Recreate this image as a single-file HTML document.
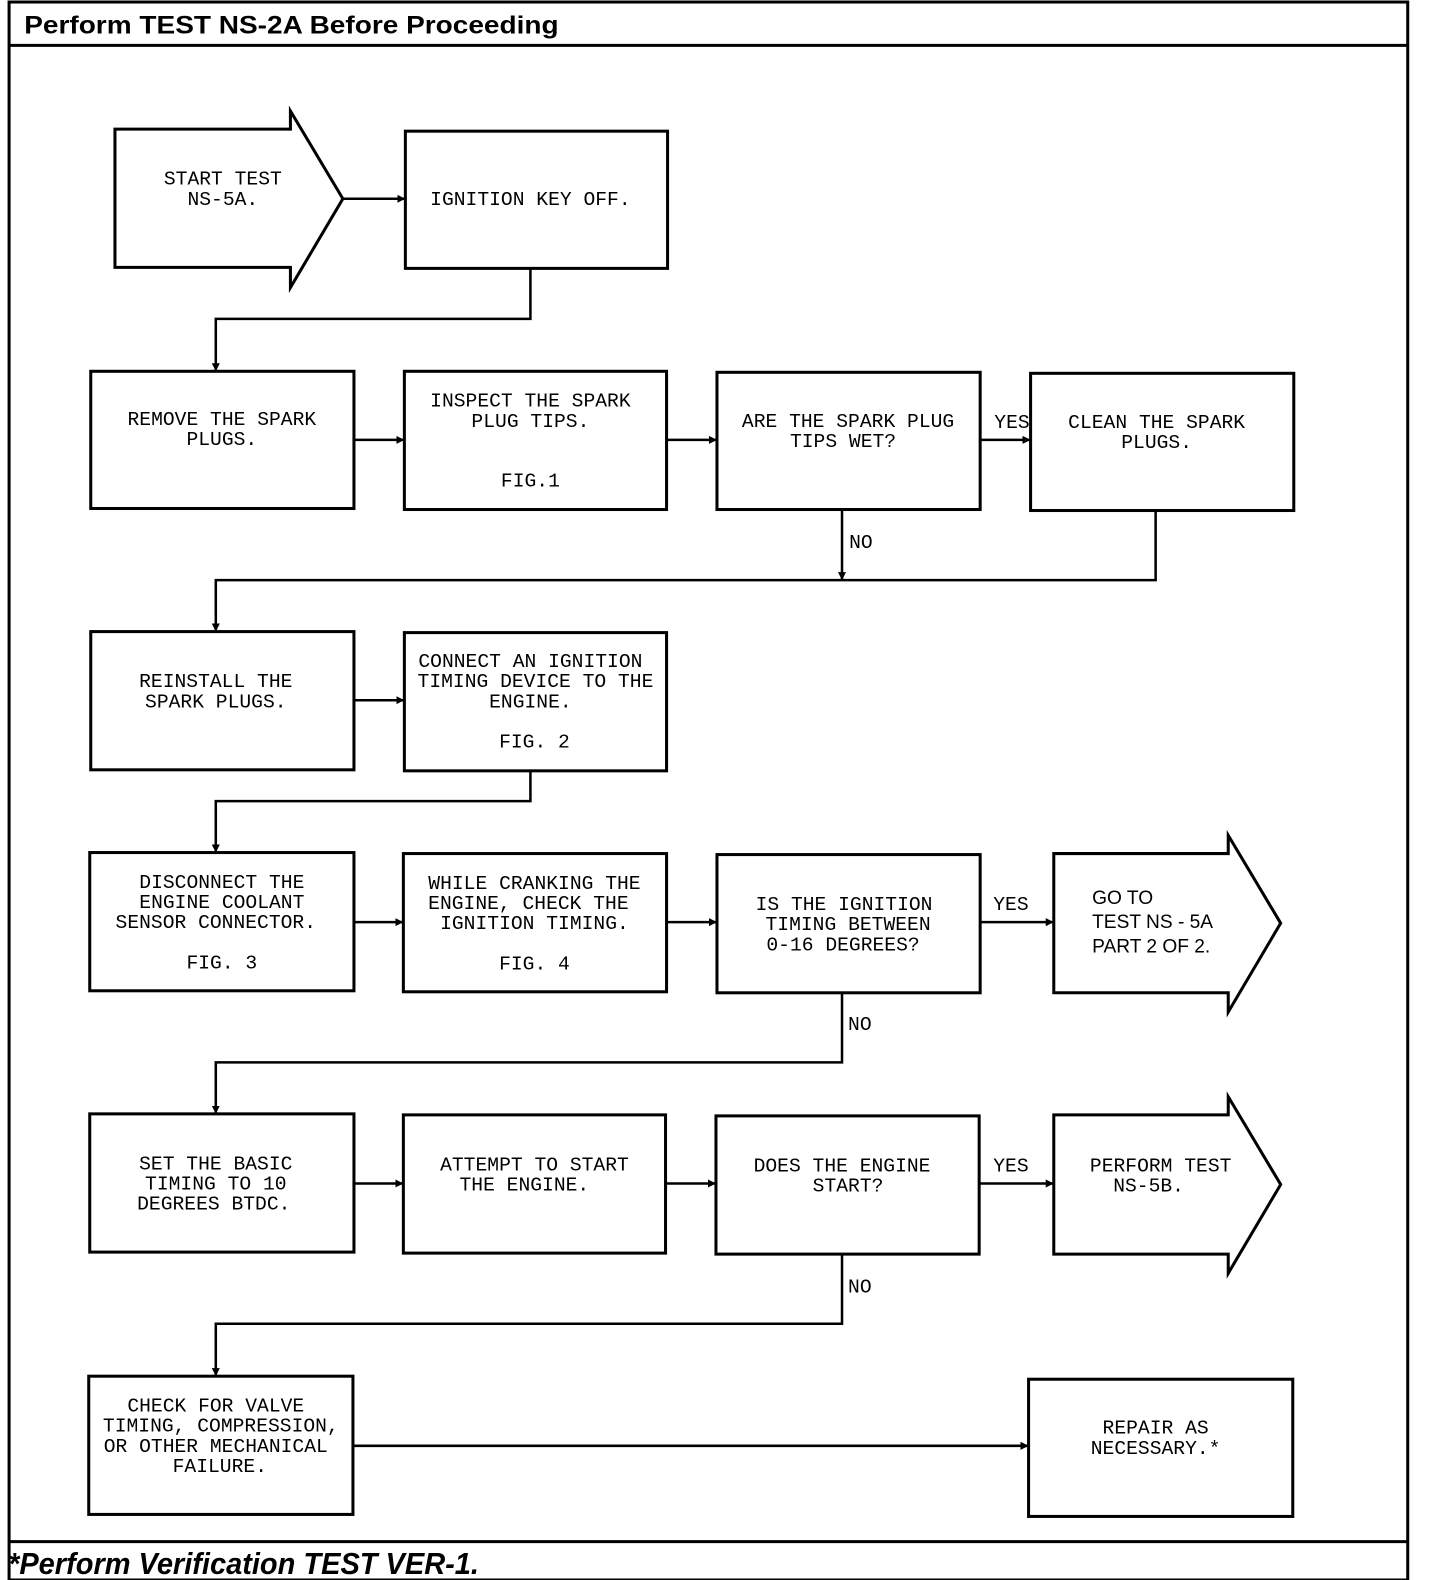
<!DOCTYPE html>
<html><head><meta charset="utf-8"><style>
html,body{margin:0;padding:0;background:#fff;}
svg{display:block;}
.t{font-family:"Liberation Mono",monospace;font-size:19.5px;fill:#000;text-anchor:middle;}
.l{font-family:"Liberation Mono",monospace;font-size:19.5px;fill:#000;}
.s{font-family:"Liberation Sans",sans-serif;font-size:19px;fill:#000;}
</style></head><body>
<svg width="1440" height="1580" viewBox="0 0 1428 1566" preserveAspectRatio="none" xmlns="http://www.w3.org/2000/svg">
<defs><marker id="a" markerWidth="8" markerHeight="8" refX="7" refY="4" orient="auto" markerUnits="userSpaceOnUse"><path d="M0,0 L8,4 L0,8 z" fill="#000"/></marker></defs>
<g fill="none" stroke="#000" stroke-width="3">
<rect x="9" y="2" width="1387" height="1564"/>
<line x1="9" y1="45" x2="1396" y2="45"/>
<line x1="9" y1="1528" x2="1396" y2="1528"/>
<path d="M114,128 H288 V110 L340,197 L288,285 V265 H114 Z"/>
<rect x="402" y="130" width="260" height="136"/>
<rect x="90" y="368" width="261" height="136"/>
<rect x="401" y="368" width="260" height="137"/>
<rect x="711" y="369" width="261" height="136"/>
<rect x="1022" y="370" width="261" height="136"/>
<rect x="90" y="626" width="261" height="137"/>
<rect x="401" y="627" width="260" height="137"/>
<rect x="89" y="845" width="262" height="137"/>
<rect x="400" y="846" width="261" height="137"/>
<rect x="711" y="847" width="261" height="137"/>
<path d="M1045,846 H1218 V828 L1270,915 L1218,1003 V984 H1045 Z"/>
<rect x="89" y="1104" width="262" height="137"/>
<rect x="400" y="1105" width="260" height="137"/>
<rect x="710" y="1106" width="261" height="137"/>
<path d="M1045,1105 H1218 V1087 L1270,1174 L1218,1262 V1243 H1045 Z"/>
<rect x="88" y="1364" width="262" height="137"/>
<rect x="1020" y="1367" width="262" height="136"/>
</g>
<g fill="none" stroke="#000" stroke-width="2.5" marker-end="url(#a)">
<path d="M340,197 H401"/>
<path d="M526,266 V316 H214 V367"/>
<path d="M351,436 H400"/>
<path d="M661,436 H710"/>
<path d="M972,436 H1021"/>
<path d="M835,505 V574"/>
<path d="M1146,506 V575 H214 V625"/>
<path d="M351,694 H400"/>
<path d="M526,764 V794 H214 V844"/>
<path d="M351,914 H399"/>
<path d="M661,914 H710"/>
<path d="M972,914 H1044"/>
<path d="M835,984 V1053 H214 V1103"/>
<path d="M351,1173 H399"/>
<path d="M660,1173 H709"/>
<path d="M971,1173 H1044"/>
<path d="M835,1243 V1312 H214 V1363"/>
<path d="M350,1433 H1019"/>
</g>
<text x="24" y="33" font-family="Liberation Sans,sans-serif" font-weight="bold" font-size="25" textLength="530" lengthAdjust="spacingAndGlyphs">Perform TEST NS-2A Before Proceeding</text>
<text x="8" y="1560" font-family="Liberation Sans,sans-serif" font-weight="bold" font-style="italic" font-size="30" textLength="467" lengthAdjust="spacingAndGlyphs">*Perform Verification TEST VER-1.</text>
<text class="t" x="221" y="183">START TEST</text><text class="t" x="221" y="203">NS-5A.</text>
<text class="t" x="526" y="203">IGNITION KEY OFF.</text>
<text class="t" x="220" y="421">REMOVE THE SPARK</text><text class="t" x="220" y="441">PLUGS.</text>
<text class="t" x="526" y="403">INSPECT THE SPARK</text><text class="t" x="526" y="423">PLUG TIPS.</text><text class="t" x="526" y="482">FIG.1</text>
<text class="t" x="841" y="423">ARE THE SPARK PLUG</text><text class="t" x="836" y="443">TIPS WET?</text>
<text class="t" x="1147" y="424">CLEAN THE SPARK</text><text class="t" x="1147" y="444">PLUGS.</text>
<text class="l" x="986" y="424">YES</text>
<text class="l" x="842" y="543">NO</text>
<text class="t" x="214" y="681">REINSTALL THE</text><text class="t" x="214" y="701">SPARK PLUGS.</text>
<text class="t" x="526" y="661">CONNECT AN IGNITION</text><text class="t" x="531" y="681">TIMING DEVICE TO THE</text><text class="t" x="526" y="701">ENGINE.</text><text class="t" x="530" y="741">FIG. 2</text>
<text class="t" x="220" y="880">DISCONNECT THE</text><text class="t" x="220" y="900">ENGINE COOLANT</text><text class="t" x="214" y="920">SENSOR CONNECTOR.</text><text class="t" x="220" y="960">FIG. 3</text>
<text class="t" x="530" y="881">WHILE CRANKING THE</text><text class="t" x="524" y="901">ENGINE, CHECK THE</text><text class="t" x="530" y="921">IGNITION TIMING.</text><text class="t" x="530" y="961">FIG. 4</text>
<text class="t" x="837" y="902">IS THE IGNITION</text><text class="t" x="841" y="922">TIMING BETWEEN</text><text class="t" x="836" y="942">0-16 DEGREES?</text>
<text class="l" x="985" y="902">YES</text>
<text class="s" x="1083" y="896">GO TO</text><text class="s" x="1083" y="920">TEST NS - 5A</text><text class="s" x="1083" y="944">PART 2 OF 2.</text>
<text class="l" x="841" y="1021">NO</text>
<text class="t" x="214" y="1159">SET THE BASIC</text><text class="t" x="214" y="1179">TIMING TO 10</text><text class="t" x="212" y="1199">DEGREES BTDC.</text>
<text class="t" x="530" y="1160">ATTEMPT TO START</text><text class="t" x="520" y="1180">THE ENGINE.</text>
<text class="t" x="835" y="1161">DOES THE ENGINE</text><text class="t" x="841" y="1181">START?</text>
<text class="l" x="985" y="1161">YES</text>
<text class="t" x="1151" y="1161">PERFORM TEST</text><text class="t" x="1139" y="1181">NS-5B.</text>
<text class="l" x="841" y="1281">NO</text>
<text class="t" x="214" y="1399">CHECK FOR VALVE</text><text class="t" x="219" y="1419">TIMING, COMPRESSION,</text><text class="t" x="214" y="1439">OR OTHER MECHANICAL</text><text class="t" x="218" y="1459">FAILURE.</text>
<text class="t" x="1146" y="1421">REPAIR AS</text><text class="t" x="1146" y="1441">NECESSARY.*</text>
</svg>
</body></html>
